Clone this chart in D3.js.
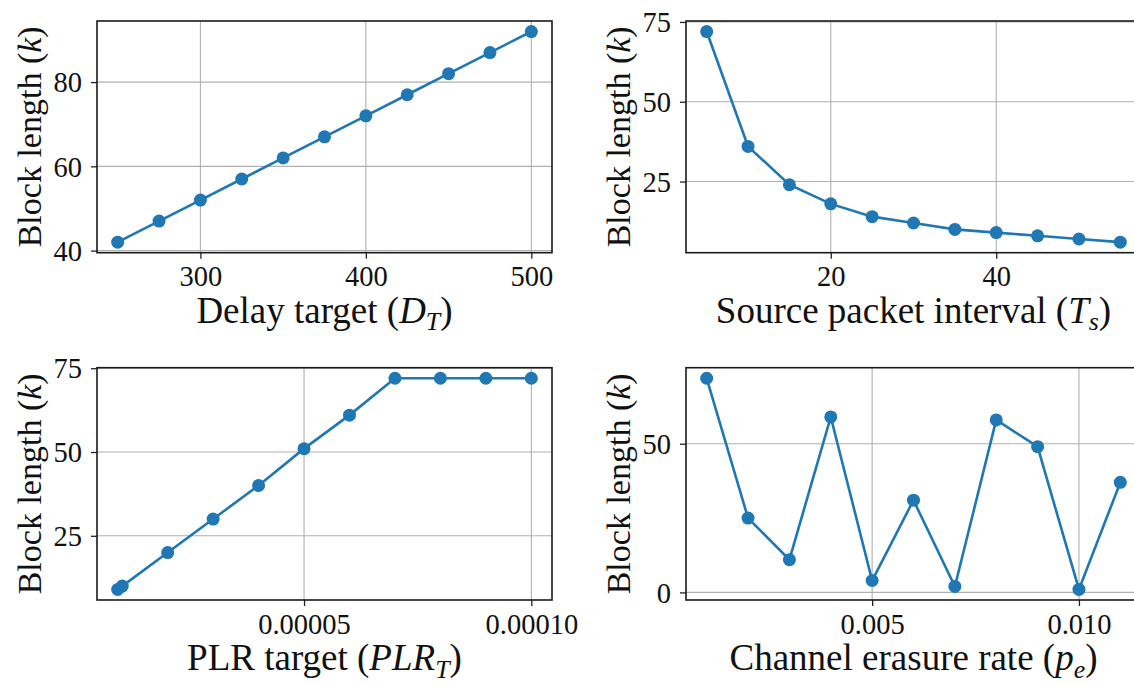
<!DOCTYPE html>
<html>
<head>
<meta charset="utf-8">
<script src="https://cdn.jsdelivr.net/npm/d3@7"></script>
<style>
  html, body { margin: 0; padding: 0; background: #fff; }
  svg { display: block; }
  text { font-family: "Liberation Serif", "Times New Roman", serif; fill: #111; }
</style>
</head>
<body>
<svg id="chart" width="1134" height="685"></svg>
<script>
// ---------- data ----------
const delayTargets   = [250, 275, 300, 325, 350, 375, 400, 425, 450, 475, 500];
const delayBlockLen  = [42, 47, 52, 57, 62, 67, 72, 77, 82, 87, 92];

const packetIntervals   = [5, 10, 15, 20, 25, 30, 35, 40, 45, 50, 55];
const intervalBlockLen  = [72, 36, 24, 18, 14, 12, 10, 9, 8, 7, 6];

const plrTargets   = [0.000009, 0.00001, 0.00002, 0.00003, 0.00004, 0.00005, 0.00006, 0.00007, 0.00008, 0.00009, 0.0001];
const plrBlockLen  = [9, 10, 20, 30, 40, 51, 61, 72, 72, 72, 72];

const erasureRates    = [0.001, 0.002, 0.003, 0.004, 0.005, 0.006, 0.007, 0.008, 0.009, 0.010, 0.011];
const erasureBlockLen = [72, 25, 11, 59, 4, 31, 2, 58, 49, 1, 37];

// tick values and labels
const delayXTicks = [300, 400, 500];
const delayXTickLabels = ["300", "400", "500"];
const delayYTicks = [40, 60, 80];
const delayYTickLabels = ["40", "60", "80"];

const intervalXTicks = [20, 40];
const intervalXTickLabels = ["20", "40"];
const intervalYTicks = [25, 50, 75];
const intervalYTickLabels = ["25", "50", "75"];

const plrXTicks = [0.00005, 0.0001];
const plrXTickLabels = ["0.00005", "0.00010"];
const plrYTicks = [25, 50, 75];
const plrYTickLabels = ["25", "50", "75"];

const erasureXTicks = [0.005, 0.010];
const erasureXTickLabels = ["0.005", "0.010"];
const erasureYTicks = [0, 50];
const erasureYTickLabels = ["0", "50"];

// axis label pieces: [text, italic, subscript]
const yLabelParts = [["Block length (", false, false], ["k", true, false], [")", false, false]];
const xLabel1 = [["Delay target (", false, false], ["D", true, false], ["T", true, true], [")", false, false]];
const xLabel2 = [["Source packet interval (", false, false], ["T", true, false], ["s", true, true], [")", false, false]];
const xLabel3 = [["PLR target (", false, false], ["PLR", true, false], ["T", true, true], [")", false, false]];
const xLabel4 = [["Channel erasure rate (", false, false], ["p", true, false], ["e", true, true], [")", false, false]];

// ---------- layout ----------
const svg = d3.select("#chart");
const COLOR = "#1f77b4";
const colX = [[97, 552], [686, 1141]];
const rowY = [[21, 252.7], [367.7, 600]];

function padded(values) {
  const [lo, hi] = d3.extent(values);
  const m = (hi - lo) * 0.05;
  return [lo - m, hi + m];
}

function addLabel(sel, parts) {
  parts.forEach(([t, it, sub], i) => {
    const ts = sel.append("tspan").text(t);
    if (it) ts.attr("font-style", "italic");
    if (sub) ts.attr("font-size", "0.7em").attr("dy", "0.3em");
    else if (i > 0 && parts[i - 1][2]) ts.attr("dy", "-0.21em");
  });
}

function panel(cfg) {
  const [x0, x1] = colX[cfg.col];
  const [y0, y1] = rowY[cfg.row];
  const x = d3.scaleLinear().domain(padded(cfg.xs)).range([x0, x1]);
  const y = d3.scaleLinear().domain(padded(cfg.ys)).range([y1, y0]);
  const g = svg.append("g");

  // grid
  g.append("g").selectAll("line").data(cfg.xTicks).join("line")
    .attr("x1", d => x(d)).attr("x2", d => x(d))
    .attr("y1", y0).attr("y2", y1)
    .attr("stroke", "#b0b0b0").attr("stroke-width", 1.1);
  g.append("g").selectAll("line").data(cfg.yTicks).join("line")
    .attr("x1", x0).attr("x2", x1)
    .attr("y1", d => y(d)).attr("y2", d => y(d))
    .attr("stroke", "#b0b0b0").attr("stroke-width", 1.1);

  // axes via d3
  const xAxis = d3.axisBottom(x).tickValues(cfg.xTicks)
    .tickFormat((d, i) => cfg.xTickLabels[i]).tickSize(6).tickPadding(7);
  const yAxis = d3.axisLeft(y).tickValues(cfg.yTicks)
    .tickFormat((d, i) => cfg.yTickLabels[i]).tickSize(6).tickPadding(9);

  const gx = g.append("g").attr("transform", `translate(0,${y1})`).call(xAxis);
  const gy = g.append("g").attr("transform", `translate(${x0},0)`).call(yAxis);
  [gx, gy].forEach(a => {
    a.select(".domain").remove();
    a.selectAll(".tick line").attr("stroke", "#222").attr("stroke-width", 1.3);
    a.selectAll(".tick text").attr("font-size", 28.5)
      .attr("font-family", '"Liberation Serif", serif').attr("fill", "#111");
  });
  gx.selectAll(".tick text").attr("dy", "0.72em");
  gy.selectAll(".tick text").attr("dy", "0.34em");

  // frame
  g.append("rect").attr("x", x0).attr("y", y0)
    .attr("width", x1 - x0).attr("height", y1 - y0)
    .attr("fill", "none").attr("stroke", "#1a1a1a").attr("stroke-width", 1.6);

  // line + markers
  const pts = cfg.xs.map((v, i) => [v, cfg.ys[i]]);
  g.append("path").datum(pts)
    .attr("d", d3.line().x(d => x(d[0])).y(d => y(d[1])))
    .attr("fill", "none").attr("stroke", COLOR).attr("stroke-width", 2.6);
  g.append("g").selectAll("circle").data(pts).join("circle")
    .attr("cx", d => x(d[0])).attr("cy", d => y(d[1]))
    .attr("r", 6.5).attr("fill", COLOR);

  // x label
  const xl = g.append("text")
    .attr("x", (x0 + Math.min(x1, x0 + 455)) / 2).attr("y", y1 + 70)
    .attr("text-anchor", "middle").attr("font-size", 37);
  addLabel(xl, cfg.xLabel);

  // y label
  const yl = g.append("text")
    .attr("transform", `translate(${x0 - 56},${(y0 + y1) / 2}) rotate(-90)`)
    .attr("text-anchor", "middle").attr("font-size", 34);
  addLabel(yl, yLabelParts);
}

panel({ col: 0, row: 0, xs: delayTargets, ys: delayBlockLen,
  xTicks: delayXTicks, xTickLabels: delayXTickLabels,
  yTicks: delayYTicks, yTickLabels: delayYTickLabels, xLabel: xLabel1 });
panel({ col: 1, row: 0, xs: packetIntervals, ys: intervalBlockLen,
  xTicks: intervalXTicks, xTickLabels: intervalXTickLabels,
  yTicks: intervalYTicks, yTickLabels: intervalYTickLabels, xLabel: xLabel2 });
panel({ col: 0, row: 1, xs: plrTargets, ys: plrBlockLen,
  xTicks: plrXTicks, xTickLabels: plrXTickLabels,
  yTicks: plrYTicks, yTickLabels: plrYTickLabels, xLabel: xLabel3 });
panel({ col: 1, row: 1, xs: erasureRates, ys: erasureBlockLen,
  xTicks: erasureXTicks, xTickLabels: erasureXTickLabels,
  yTicks: erasureYTicks, yTickLabels: erasureYTickLabels, xLabel: xLabel4 });
</script>
</body>
</html>
